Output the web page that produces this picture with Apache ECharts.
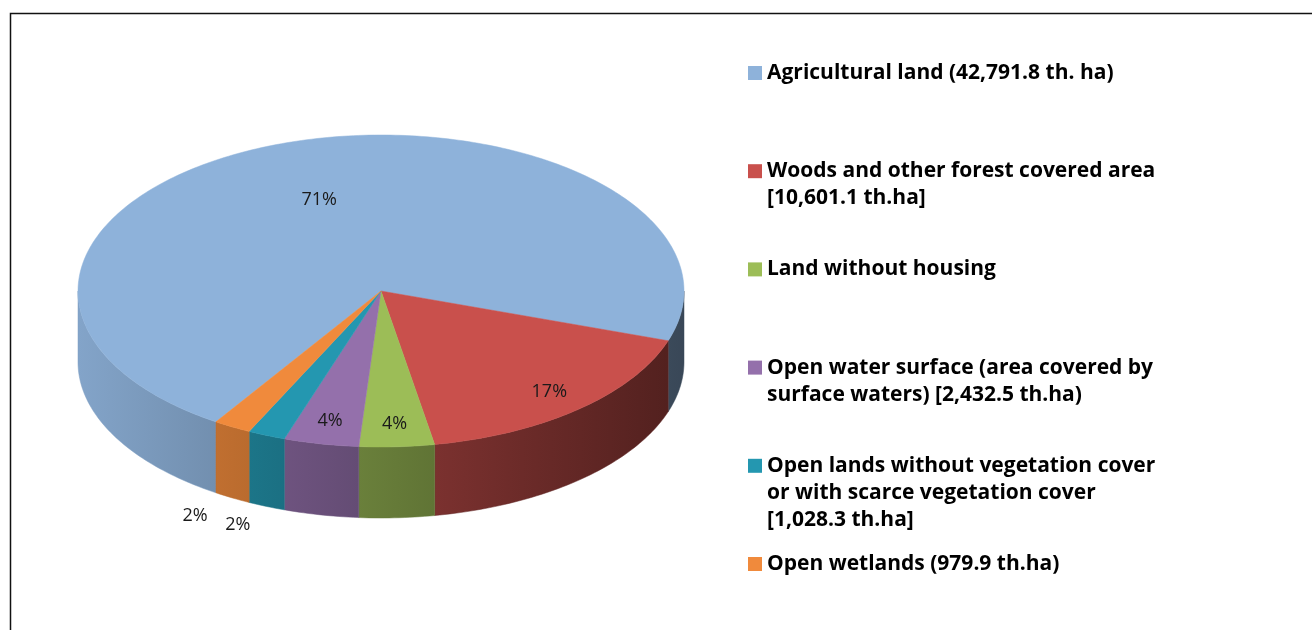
<!doctype html>
<meta charset="utf-8">
<title>Land fund structure</title>
<style>
	html, body { margin: 0; padding: 0; background: #fff; }
	#chart { width: 1312px; height: 630px; }
</style>
<div id="chart"></div>
<script src="https://cdn.jsdelivr.net/npm/echarts@6.0.0/dist/echarts.min.js"></script>
<script>
	// shares (%)
	var categories = [
		'Agricultural land (42,791.8 th. ha)',
		'Woods and other forest covered area\n[10,601.1 th.ha]',
		'Land without housing',
		'Open water surface (area covered by\nsurface waters) [2,432.5 th.ha)',
		'Open lands without vegetation cover\nor with scarce vegetation cover\n[1,028.3 th.ha]',
		'Open wetlands (979.9 th.ha)'
	];
	var shares = [71, 17, 4, 4, 2, 2];
	var colors = ['#8eb2da', '#c9504c', '#9cbd57', '#9470ab', '#2497b0', '#f08a3c'];

	var startAngle = 213;   // degrees, clockwise from 12 o'clock
	var depth = 71 / 156;   // side height in y units of the top ellipse

	var total = shares.reduce(function (s, v) { return s + v; }, 0);
	var angles = [];
	var acc = startAngle;
	shares.forEach(function (v) {
		var span = v / total * 360;
		angles.push([acc, acc + span]);
		acc += span;
	});

	function shade(hex, m) {
		var n = parseInt(hex.slice(1), 16);
		var r = Math.round(((n >> 16) & 255) * m);
		var g = Math.round(((n >> 8) & 255) * m);
		var b = Math.round((n & 255) * m);
		return 'rgb(' + r + ',' + g + ',' + b + ')';
	}
	function sideFactor(deg) {
		return 0.66 - 0.26 * Math.sin(deg * Math.PI / 180);
	}
	function pt(api, deg, drop, r) {
		var a = deg * Math.PI / 180;
		r = r || 1;
		return api.coord([r * Math.sin(a), r * Math.cos(a) - drop]);
	}
	function arc(api, from, to, drop) {
		var pts = [];
		var steps = Math.max(2, Math.ceil(Math.abs(to - from)));
		for (var k = 0; k <= steps; k++) {
			pts.push(pt(api, from + (to - from) * k / steps, drop));
		}
		return pts;
	}

	function makeRender(i) {
		return function (params, api) {
			var a = angles[i][0], b = angles[i][1];
			var children = [];
			// visible front side: 90..270 (and the same window one turn later)
			[[90, 270], [450, 630]].forEach(function (w) {
				var p = Math.max(a, w[0]), q = Math.min(b, w[1]);
				if (q - p <= 0) return;
				var pts = arc(api, p, q, 0).concat(arc(api, q, p, depth));
				children.push({
					type: 'polygon',
					shape: { points: pts },
					style: {
						fill: {
							type: 'linear', x: 0, y: 0, x2: 1, y2: 0,
							colorStops: [
								{ offset: 0, color: shade(colors[i], sideFactor(q)) },
								{ offset: 1, color: shade(colors[i], sideFactor(p)) }
							]
						},
						stroke: shade(colors[i], sideFactor((p + q) / 2)),
						lineWidth: 0.5
					}
				});
			});
			// top face
			var top = [api.coord([0, 0])].concat(arc(api, a, b, 0));
			children.push({
				type: 'polygon',
				shape: { points: top },
				style: { fill: colors[i], stroke: colors[i], lineWidth: 0.5 }
			});
			// percentage label
			var mid = (a + b) / 2, rad = mid * Math.PI / 180;
			var pct = Math.round(shares[i] / total * 100) + '%';
			var pos;
			if (shares[i] / total < 0.03) {
				pos = api.coord([1.25 * Math.sin(rad), 1.13 * Math.cos(rad) - depth]);
			} else {
				pos = pt(api, mid, 0, shares[i] / total > 0.5 ? 0.62 : 0.85);
			}
			children.push({
				type: 'text',
				z2: 100,
				x: pos[0], y: pos[1],
				style: {
					text: pct, fill: '#1a1a1a',
					font: '500 18px "Open Sans"', align: 'center', verticalAlign: 'middle'
				}
			});
			return { type: 'group', children: children };
		};
	}

	var lineH = 27;
	var legends = categories.map(function (name, i) {
		var n = name.split('\n').length;
		var y = 73 + i * 98.2;
		// blank lines above keep the marker level with the first text line
		var lead = new Array(n).join('\n');
		return {
			data: [name],
			left: 748,
			top: y - (2 * n - 1) * lineH / 2,
			padding: 0,
			orient: 'vertical',
			icon: 'rect',
			itemWidth: 14,
			itemHeight: 14,
			itemGap: 4,
			selectedMode: false,
			formatter: function (s) { return lead + s; },
			textStyle: {
				color: '#000',
				fontFamily: 'Open Sans',
				fontWeight: 'bold',
				fontSize: 21,
				lineHeight: lineH
			}
		};
	});

	var series = categories.map(function (name, i) {
		return {
			type: 'custom',
			name: name,
			coordinateSystem: 'cartesian2d',
			clip: false,
			silent: true,
			itemStyle: { color: colors[i] },
			data: [[0, 0]],
			renderItem: makeRender(i)
		};
	});

	var chart = echarts.init(document.getElementById('chart'));
	chart.setOption({
		animation: false,
		backgroundColor: '#fff',
		grid: { left: 78, top: 135, width: 606, height: 383 },
		xAxis: { type: 'value', min: -1, max: 1, show: false },
		yAxis: { type: 'value', min: -1 - depth, max: 1, show: false },
		legend: legends,
		series: series,
		graphic: [{
			type: 'rect',
			shape: { x: 10.5, y: 13.5, width: 1400, height: 700 },
			style: { fill: 'none', stroke: '#111', lineWidth: 1.5 },
			silent: true
		}]
	});
</script>
